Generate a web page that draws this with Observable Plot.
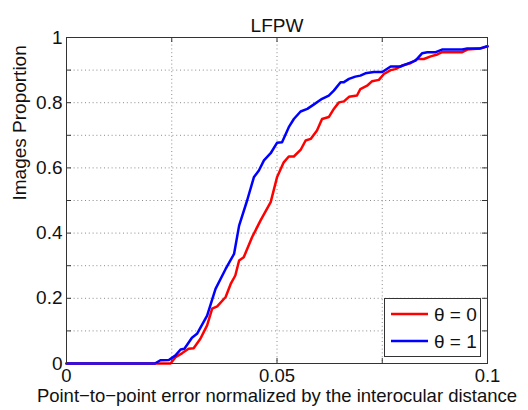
<!DOCTYPE html>
<html>
<head>
<meta charset="utf-8">
<script src="https://cdn.jsdelivr.net/npm/d3@7"></script>
<script src="https://cdn.jsdelivr.net/npm/@observablehq/plot@0.6"></script>
<style>
  html, body { margin: 0; padding: 0; background: #fff; }
  #wrap { position: relative; width: 528px; height: 410px; font-family: "Liberation Sans", Arial, Helvetica, sans-serif; }
  #legend { position: absolute; left: 384px; top: 298px; }
</style>
</head>
<body>
<div id="wrap"><div id="legend"></div></div>
<script>
// ---- data ----
const titleText = "LFPW";
const xLabelText = "Point\u2212to\u2212point error normalized by the interocular distance";
const yLabelText = "Images Proportion";
const seriesNames = ["\u03b8 = 0", "\u03b8 = 1"];
const seriesColors = ["#ff0000", "#0000ff"];

const xTickLabels = [0, 0.05, 0.1];
const yTickLabels = [0, 0.2, 0.4, 0.6, 0.8, 1];
const xMinorTicks = [0, 0.025, 0.05, 0.075, 0.1];
const yMinorTicks = [0, 0.1, 0.2, 0.3, 0.4, 0.5, 0.6, 0.7, 0.8, 0.9, 1];
const xGrid = [0.025, 0.05, 0.075];
const yGrid = [0.1, 0.2, 0.3, 0.4, 0.5, 0.6, 0.7, 0.8, 0.9];

const theta0_x = [0, 0.0247, 0.0259, 0.0275, 0.029, 0.0302, 0.0318, 0.0334, 0.0346, 0.0358, 0.0378, 0.039, 0.0401, 0.041, 0.0421, 0.0441, 0.0461, 0.0485, 0.05, 0.0516, 0.0528, 0.054, 0.0556, 0.0568, 0.058, 0.0595, 0.0607, 0.0623, 0.0635, 0.0647, 0.0659, 0.0671, 0.069, 0.0698, 0.0714, 0.0726, 0.0742, 0.0754, 0.077, 0.0781, 0.0797, 0.0817, 0.0833, 0.0849, 0.0865, 0.0881, 0.0892, 0.094, 0.0952, 0.0983, 0.1];
const theta0_y = [0, 0, 0.019, 0.032, 0.045, 0.047, 0.076, 0.117, 0.168, 0.175, 0.204, 0.244, 0.27, 0.316, 0.326, 0.388, 0.439, 0.495, 0.571, 0.617, 0.635, 0.635, 0.655, 0.684, 0.689, 0.715, 0.75, 0.756, 0.781, 0.801, 0.804, 0.818, 0.822, 0.842, 0.852, 0.866, 0.87, 0.888, 0.9, 0.903, 0.914, 0.921, 0.934, 0.934, 0.942, 0.948, 0.955, 0.955, 0.963, 0.966, 0.973];

const theta1_x = [0, 0.021, 0.0223, 0.0243, 0.0259, 0.0271, 0.028, 0.0298, 0.031, 0.0334, 0.0354, 0.0378, 0.0398, 0.041, 0.0429, 0.0445, 0.0457, 0.0469, 0.0485, 0.05, 0.0512, 0.0528, 0.054, 0.0556, 0.0572, 0.0587, 0.0607, 0.0623, 0.0635, 0.0651, 0.0659, 0.0671, 0.0686, 0.0698, 0.071, 0.073, 0.075, 0.077, 0.0793, 0.0809, 0.0829, 0.0845, 0.0857, 0.0877, 0.0892, 0.094, 0.0952, 0.098, 0.1];
const theta1_y = [0, 0, 0.01, 0.011, 0.025, 0.043, 0.045, 0.079, 0.091, 0.147, 0.229, 0.29, 0.336, 0.423, 0.5, 0.571, 0.592, 0.623, 0.645, 0.677, 0.679, 0.725, 0.75, 0.773, 0.781, 0.794, 0.812, 0.822, 0.837, 0.863, 0.863, 0.873, 0.88, 0.883, 0.89, 0.894, 0.894, 0.911, 0.911, 0.919, 0.929, 0.952, 0.955, 0.955, 0.963, 0.963, 0.966, 0.966, 0.973];

// ---- build ----
const W = 528, H = 410;
const mL = 66, mR = 41, mT = 37, mB = 47;
const fw = W - mL - mR, fh = H - mT - mB;
const tickLen = 5;
const font = 19;

const rows = [
  ...theta0_x.map((x, i) => ({x, y: theta0_y[i], s: seriesNames[0]})),
  ...theta1_x.map((x, i) => ({x, y: theta1_y[i], s: seriesNames[1]}))
];

const chart = Plot.plot({
  width: W, height: H,
  marginLeft: mL, marginRight: mR, marginTop: mT, marginBottom: mB,
  style: {fontFamily: '"Liberation Sans", Arial, Helvetica, sans-serif', fontSize: font + "px", color: "#111", background: "#fff"},
  x: {domain: [0, 0.1]},
  y: {domain: [0, 1]},
  color: {domain: seriesNames, range: seriesColors},
  marks: [
    Plot.ruleX(xGrid, {x: d => d, stroke: "#8a8a8a", strokeDasharray: "1,2.8", strokeWidth: 1}),
    Plot.ruleY(yGrid, {y: d => d, stroke: "#8a8a8a", strokeDasharray: "1,2.8", strokeWidth: 1}),
    // inward ticks
    Plot.tickY(yMinorTicks, {y: d => d, insetRight: fw - tickLen, stroke: "#333"}),
    Plot.tickY(yMinorTicks, {y: d => d, insetLeft: fw - tickLen, stroke: "#333"}),
    Plot.tickX(xMinorTicks, {x: d => d, insetTop: fh - tickLen, stroke: "#333"}),
    Plot.tickX(xMinorTicks, {x: d => d, insetBottom: fh - tickLen, stroke: "#333"}),
    Plot.axisX(xTickLabels, {tickSize: 0, tickPadding: 5, label: null, tickFormat: d => String(d), fontSize: 18.5}),
    Plot.axisY(yTickLabels, {tickSize: 0, tickPadding: 4, label: null, tickFormat: d => String(d), fontSize: font}),
    Plot.line(rows, {x: "x", y: "y", z: "s", stroke: "s", strokeWidth: 2.5, curve: "linear"}),
    Plot.frame({stroke: "#333", strokeWidth: 1}),
    Plot.text([titleText], {frameAnchor: "top", dy: -19, text: d => d, fontSize: font, fill: "#111"}),
    Plot.text([xLabelText], {frameAnchor: "bottom", dy: 38, text: d => d, fontSize: 18.5, fill: "#111"}),
    Plot.text([yLabelText], {frameAnchor: "left", dx: -47, rotate: -90, text: d => d, fontSize: font, fill: "#111"})
  ]
});
document.getElementById("wrap").prepend(chart);

// legend
const lg = d3.select("#legend").append("svg").attr("width", 98).attr("height", 60)
  .style("display", "block").style("font-family", '"Liberation Sans", Arial, Helvetica, sans-serif');
lg.append("rect").attr("x", 0.5).attr("y", 0.5).attr("width", 96).attr("height", 58)
  .attr("fill", "#fff").attr("stroke", "#333");
seriesNames.forEach((name, i) => {
  const cy = 16 + i * 27;
  lg.append("line").attr("x1", 7).attr("x2", 44).attr("y1", cy).attr("y2", cy)
    .attr("stroke", seriesColors[i]).attr("stroke-width", 2.5);
  lg.append("text").attr("x", 50).attr("y", cy).attr("dy", "0.35em")
    .attr("font-size", font).attr("fill", "#111").text(name);
});
</script>
</body>
</html>
